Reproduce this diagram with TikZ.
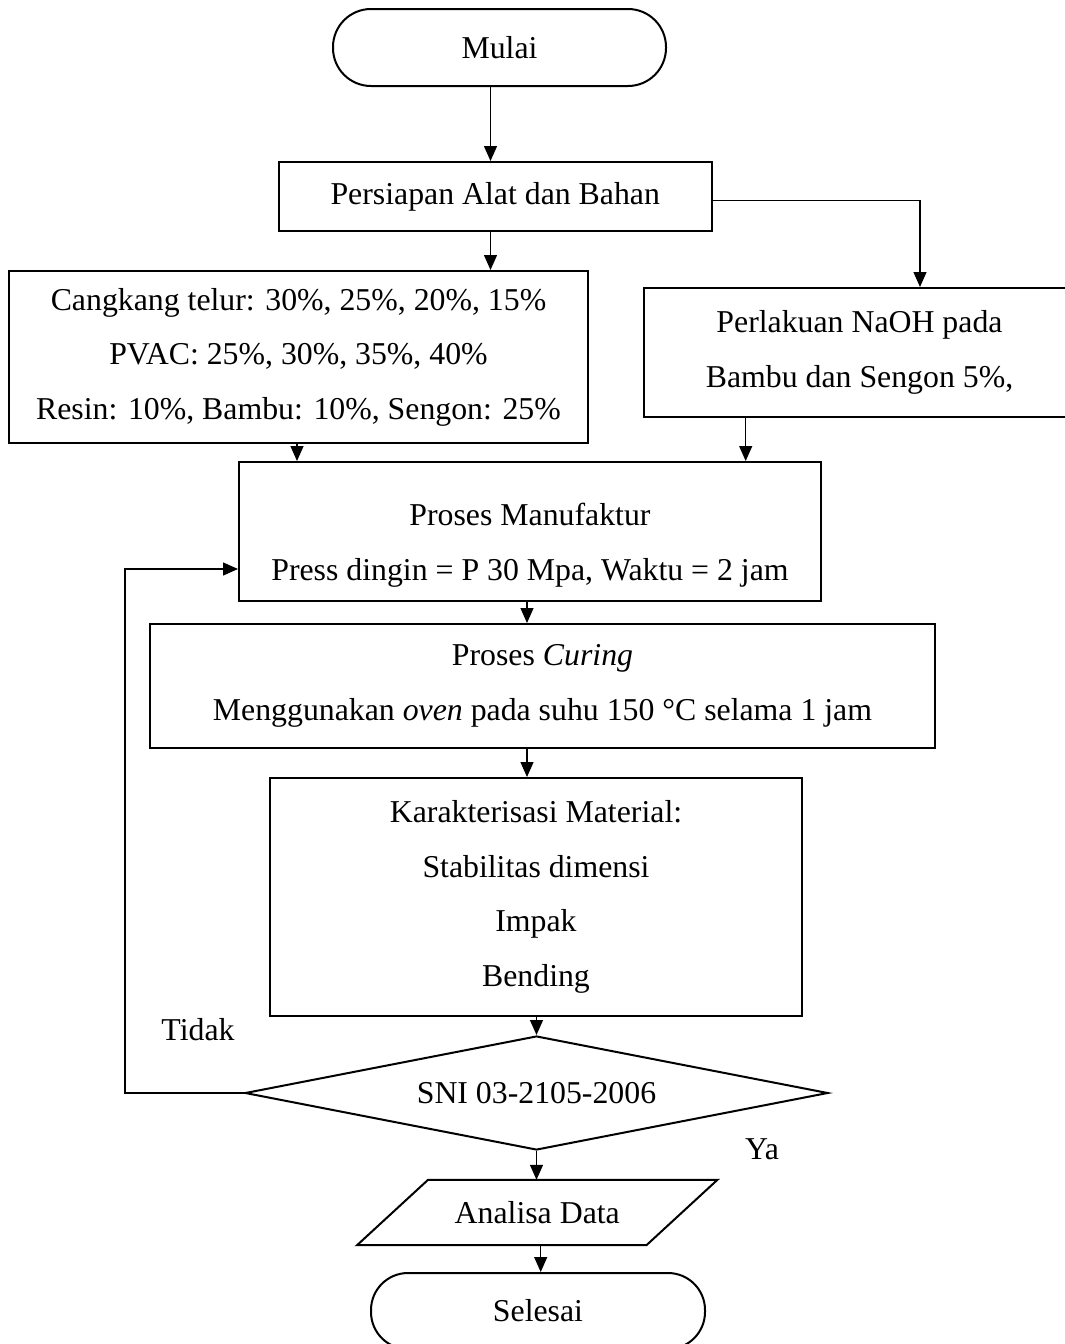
\documentclass[tikz,border=0pt]{standalone}
\usepackage{fontspec}
\setmainfont{Liberation Serif}
\usetikzlibrary{arrows.meta,shapes.geometric}
\begin{document}
\begin{tikzpicture}[x=1pt,y=-1pt,
  every node/.style={font=\fontsize{31.8}{54.6}\selectfont, inner sep=0pt},
  box/.style={draw, line width=2pt, rectangle},
  term/.style={draw, line width=2pt, rectangle},
  plain/.style={draw=none, align=center},
  conn/.style={line width=1.3pt},
  arr/.style={conn, -{Triangle[length=15pt,width=13pt]}}]
\useasboundingbox (0,0) rectangle (1065,1344);

% nodes
\node[term, rounded corners=38pt, minimum width=333pt, minimum height=77pt] (mulai) at (499.5,47.5) {Mulai};
\node[box, minimum width=433.5pt, minimum height=69pt] (persiapan) at (495.25,196.5) {Persiapan Alat dan Bahan};
\node[box, minimum width=579pt, minimum height=172pt, align=center] (cangkang) at (298.5,357)
  {Cangkang telur: 30\%, 25\%, 20\%, 15\%\\PVAC: 25\%, 30\%, 35\%, 40\%\\Resin: 10\%, Bambu: 10\%, Sengon: 25\%};
\node[box, minimum width=431pt, minimum height=129pt, align=center] (naoh) at (859.5,352.5)
  {Perlakuan NaOH pada\\Bambu dan Sengon 5\%,};
\node[box, minimum width=582pt, minimum height=139pt] (manuf) at (530,531.5) {};
\node[plain] (manuftxt) at (530,545) {Proses Manufaktur\\Press dingin = P 30 Mpa, Waktu = 2 jam};
\node[box, minimum width=785pt, minimum height=124pt, align=center] (curing) at (542.5,686)
  {Proses \textit{Curing}\\Menggunakan \textit{oven} pada suhu 150 °C selama 1 jam};
\node[box, minimum width=532pt, minimum height=238pt, align=center] (karak) at (536,897)
  {Karakterisasi Material:\\Stabilitas dimensi\\Impak\\Bending};
\node[draw, line width=2pt, shape=diamond, aspect=5.1, minimum width=583pt, minimum height=114pt] (sni) at (536.5,1093) {SNI 03-2105-2006};
\node[draw=none, minimum width=289pt, minimum height=65pt] (analisa) at (537.25,1212.5) {Analisa Data};
\draw[line width=2pt] ([xshift=35.5pt]analisa.north west) -- ([xshift=35.5pt]analisa.north east)
  -- ([xshift=-35.5pt]analisa.south east) -- ([xshift=-35.5pt]analisa.south west) -- cycle;
\node[term, rounded corners=37pt, minimum width=334pt, minimum height=76pt] (selesai) at (538,1311) {Selesai};
\node[plain] (tidak) at (198,1030) {Tidak};
\node[plain] (ya) at (762,1149) {Ya};

% connectors
\draw[arr] (490.5,0 |- mulai.south) -- (490.5,0 |- persiapan.north);
\draw[arr] (490.5,0 |- persiapan.south) -- (490.5,0 |- cangkang.north);
\coordinate (rbend) at (920,200.7);
\draw[arr] (persiapan.east |- rbend) -- (rbend) -- (rbend |- naoh.north);
\draw[arr] (297,0 |- cangkang.south) -- (297,0 |- manuf.north);
\draw[arr] (745.7,0 |- naoh.south) -- (745.7,0 |- manuf.north);
\draw[arr] (527,0 |- manuf.south) -- (527,0 |- curing.north);
\draw[arr] (527,0 |- curing.south) -- (527,0 |- karak.north);
\draw[arr] (sni.north |- karak.south) -- (sni.north);
\draw[arr] (sni.south) -- (sni.south |- analisa.north);
\draw[arr] (540.7,0 |- analisa.south) -- (540.7,0 |- selesai.north);
\coordinate (fb) at (125,569);
\draw[arr] (sni.west) -| (fb) -- (fb -| manuf.west);
\end{tikzpicture}
\end{document}
